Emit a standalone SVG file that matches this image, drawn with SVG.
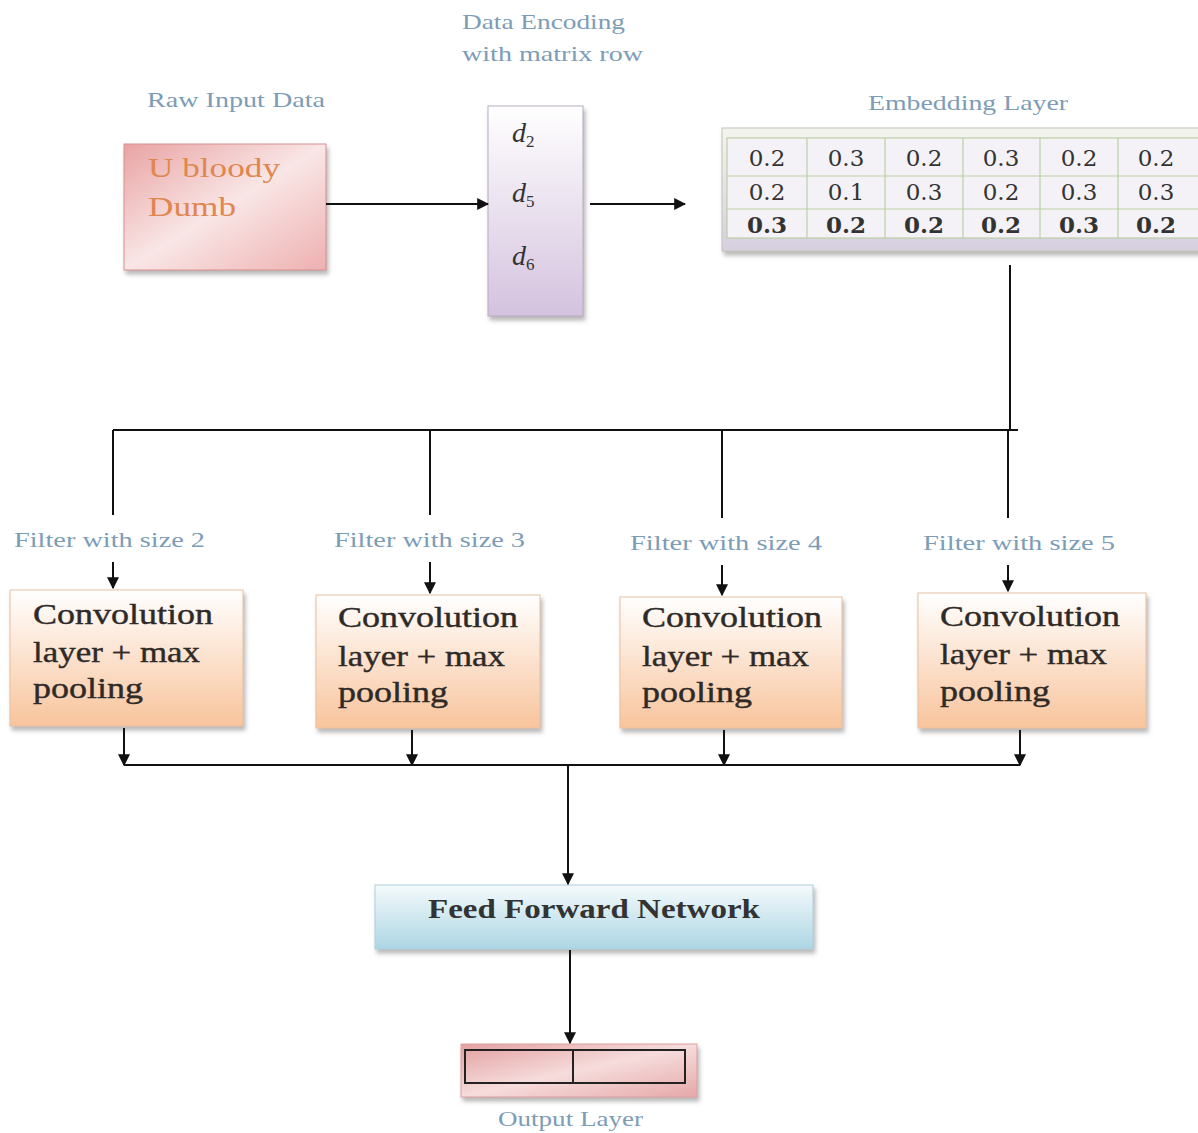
<svg xmlns="http://www.w3.org/2000/svg" width="1198" height="1133" viewBox="0 0 1198 1133">
<defs>
<linearGradient id="gRaw" x1="0" y1="0" x2="1" y2="1">
<stop offset="0" stop-color="#e9a3a3"/><stop offset="0.5" stop-color="#f9e6e6"/><stop offset="1" stop-color="#eeb0b0"/>
</linearGradient>
<linearGradient id="gEnc" x1="0" y1="0" x2="0" y2="1">
<stop offset="0" stop-color="#ffffff"/><stop offset="1" stop-color="#d4c2de"/>
</linearGradient>
<linearGradient id="gEmb" x1="0" y1="0" x2="0" y2="1">
<stop offset="0" stop-color="#f4f4ee"/><stop offset="1" stop-color="#d6cfe0"/>
</linearGradient>
<linearGradient id="gConv" x1="0" y1="0" x2="0" y2="1">
<stop offset="0" stop-color="#ffffff"/><stop offset="1" stop-color="#f8c49c"/>
</linearGradient>
<linearGradient id="gFFN" x1="0" y1="0" x2="0" y2="1">
<stop offset="0" stop-color="#f4fafc"/><stop offset="1" stop-color="#acd6e4"/>
</linearGradient>
<linearGradient id="gOut" x1="0" y1="0" x2="1" y2="1">
<stop offset="0" stop-color="#e3a0a0"/><stop offset="0.5" stop-color="#f6dcdc"/><stop offset="1" stop-color="#e6a8a8"/>
</linearGradient>
<filter id="sh" x="-10%" y="-10%" width="120%" height="130%">
<feDropShadow dx="2" dy="4" stdDeviation="2" flood-color="#888" flood-opacity="0.6"/>
</filter>
<marker id="ah" viewBox="0 0 10 10" refX="9" refY="5" markerWidth="6" markerHeight="6" orient="auto" markerUnits="strokeWidth">
<path d="M0,0 L10,5 L0,10 z" fill="#111"/>
</marker>
</defs>
<style>
.lbl{font-family:"Liberation Serif",serif;font-size:21px;fill:#7d9cb6}
.conv{font-family:"Liberation Serif",serif;font-size:29px;fill:#2e2a28;stroke:#2e2a28;stroke-width:0.4}
.num{font-family:"DejaVu Serif","Liberation Serif",serif;font-size:23px;fill:#333;text-anchor:middle}
.b{font-weight:bold}
.d{font-family:"Liberation Serif",serif;font-style:italic;font-size:28px;fill:#333}
.sub{font-size:17px;font-style:normal}
.ln{stroke:#111;stroke-width:2;fill:none}
.grid{stroke:#b9cfa6;stroke-width:1.2}
</style>
<rect width="1198" height="1133" fill="#ffffff"/>

<g id="raw">
<text class="lbl" x="147" y="107" textLength="178" lengthAdjust="spacingAndGlyphs">Raw Input Data</text>
<rect x="124" y="144" width="202" height="126" fill="url(#gRaw)" stroke="#d89090" stroke-width="1" filter="url(#sh)"/>
<text x="148" y="177" font-family="Liberation Serif,serif" font-size="27" fill="#e0864e" textLength="132" lengthAdjust="spacingAndGlyphs">U bloody</text>
<text x="148" y="216" font-family="Liberation Serif,serif" font-size="27" fill="#e0864e" textLength="88" lengthAdjust="spacingAndGlyphs">Dumb</text>
</g>

<g id="encoding">
<text class="lbl" x="462" y="29" textLength="163" lengthAdjust="spacingAndGlyphs">Data Encoding</text>
<text class="lbl" x="462" y="61" textLength="181" lengthAdjust="spacingAndGlyphs">with matrix  row</text>
<rect x="488" y="106" width="95" height="210" fill="url(#gEnc)" stroke="#b8aac4" stroke-width="1" filter="url(#sh)"/>
<text class="d" x="512" y="142">d<tspan class="sub" dy="5">2</tspan></text>
<text class="d" x="512" y="202">d<tspan class="sub" dy="5">5</tspan></text>
<text class="d" x="512" y="265">d<tspan class="sub" dy="5">6</tspan></text>
</g>

<g id="embedding">
<text class="lbl" x="868" y="110" textLength="200" lengthAdjust="spacingAndGlyphs">Embedding  Layer</text>
<rect x="722" y="128" width="480" height="123" fill="url(#gEmb)" stroke="#c4c4b8" stroke-width="1" filter="url(#sh)"/>
<rect x="727" y="138" width="475" height="100" fill="#f4f2f6" stroke="#b9cfa6" stroke-width="1.2"/>
<line class="grid" x1="727" y1="176" x2="1198" y2="176"/>
<line class="grid" x1="727" y1="209" x2="1198" y2="209"/>
<line class="grid" x1="807" y1="138" x2="807" y2="238"/>
<line class="grid" x1="885" y1="138" x2="885" y2="238"/>
<line class="grid" x1="963" y1="138" x2="963" y2="238"/>
<line class="grid" x1="1040" y1="138" x2="1040" y2="238"/>
<line class="grid" x1="1118" y1="138" x2="1118" y2="238"/>
<g class="num">
<text x="767" y="166">0.2</text><text x="846" y="166">0.3</text><text x="924" y="166">0.2</text><text x="1001" y="166">0.3</text><text x="1079" y="166">0.2</text><text x="1156" y="166">0.2</text>
<text x="767" y="200">0.2</text><text x="846" y="200">0.1</text><text x="924" y="200">0.3</text><text x="1001" y="200">0.2</text><text x="1079" y="200">0.3</text><text x="1156" y="200">0.3</text>
<text class="b" x="767" y="233">0.3</text><text class="b" x="846" y="233">0.2</text><text class="b" x="924" y="233">0.2</text><text class="b" x="1001" y="233">0.2</text><text class="b" x="1079" y="233">0.3</text><text class="b" x="1156" y="233">0.2</text>
</g>
</g>

<g id="filter-labels">
<text class="lbl" x="14" y="547" textLength="191" lengthAdjust="spacingAndGlyphs">Filter with size 2</text>
<text class="lbl" x="334" y="547" textLength="191" lengthAdjust="spacingAndGlyphs">Filter with size 3</text>
<text class="lbl" x="630" y="550" textLength="192" lengthAdjust="spacingAndGlyphs">Filter with size 4</text>
<text class="lbl" x="923" y="550" textLength="192" lengthAdjust="spacingAndGlyphs">Filter with size 5</text>
</g>

<g id="conv1">
<rect x="10" y="590" width="233" height="136" fill="url(#gConv)" stroke="#e8c0a0" stroke-width="1" filter="url(#sh)"/>
<text class="conv" x="33" y="624" textLength="180" lengthAdjust="spacingAndGlyphs">Convolution</text>
<text class="conv" x="33" y="662" textLength="167" lengthAdjust="spacingAndGlyphs">layer + max</text>
<text class="conv" x="33" y="698" textLength="110" lengthAdjust="spacingAndGlyphs">pooling</text>
</g>
<g id="conv2">
<rect x="316" y="595" width="224" height="133" fill="url(#gConv)" stroke="#e8c0a0" stroke-width="1" filter="url(#sh)"/>
<text class="conv" x="338" y="627" textLength="180" lengthAdjust="spacingAndGlyphs">Convolution</text>
<text class="conv" x="338" y="666" textLength="167" lengthAdjust="spacingAndGlyphs">layer + max</text>
<text class="conv" x="338" y="702" textLength="110" lengthAdjust="spacingAndGlyphs">pooling</text>
</g>
<g id="conv3">
<rect x="620" y="597" width="222" height="131" fill="url(#gConv)" stroke="#e8c0a0" stroke-width="1" filter="url(#sh)"/>
<text class="conv" x="642" y="627" textLength="180" lengthAdjust="spacingAndGlyphs">Convolution</text>
<text class="conv" x="642" y="666" textLength="167" lengthAdjust="spacingAndGlyphs">layer + max</text>
<text class="conv" x="642" y="702" textLength="110" lengthAdjust="spacingAndGlyphs">pooling</text>
</g>
<g id="conv4">
<rect x="918" y="593" width="228" height="135" fill="url(#gConv)" stroke="#e8c0a0" stroke-width="1" filter="url(#sh)"/>
<text class="conv" x="940" y="626" textLength="180" lengthAdjust="spacingAndGlyphs">Convolution</text>
<text class="conv" x="940" y="664" textLength="167" lengthAdjust="spacingAndGlyphs">layer + max</text>
<text class="conv" x="940" y="701" textLength="110" lengthAdjust="spacingAndGlyphs">pooling</text>
</g>

<g id="ffn">
<rect x="375" y="885" width="438" height="64" fill="url(#gFFN)" stroke="#b0cfdc" stroke-width="1" filter="url(#sh)"/>
<text x="428" y="918" font-family="Liberation Serif,serif" font-size="27" font-weight="bold" fill="#333" textLength="332" lengthAdjust="spacingAndGlyphs">Feed Forward Network</text>
</g>

<g id="output">
<rect x="461" y="1044" width="236" height="53" fill="url(#gOut)" stroke="#dba0a0" stroke-width="1" filter="url(#sh)"/>
<rect x="465" y="1050" width="220" height="33" fill="none" stroke="#222" stroke-width="2"/>
<line x1="573" y1="1050" x2="573" y2="1083" stroke="#222" stroke-width="2"/>
<text class="lbl" x="498" y="1126" textLength="145" lengthAdjust="spacingAndGlyphs">Output Layer</text>
</g>

<g id="connectors">
<line class="ln" x1="326" y1="204" x2="488" y2="204" marker-end="url(#ah)"/>
<line class="ln" x1="590" y1="204" x2="685" y2="204" marker-end="url(#ah)"/>
<polyline class="ln" points="1010,265 1010,430"/>
<line class="ln" x1="113" y1="430" x2="1018" y2="430"/>
<line class="ln" x1="113" y1="430" x2="113" y2="515"/>
<line class="ln" x1="430" y1="430" x2="430" y2="515"/>
<line class="ln" x1="722" y1="430" x2="722" y2="518"/>
<line class="ln" x1="1008" y1="430" x2="1008" y2="518"/>
<line class="ln" x1="113" y1="562" x2="113" y2="588" marker-end="url(#ah)"/>
<line class="ln" x1="430" y1="562" x2="430" y2="593" marker-end="url(#ah)"/>
<line class="ln" x1="722" y1="565" x2="722" y2="595" marker-end="url(#ah)"/>
<line class="ln" x1="1008" y1="565" x2="1008" y2="591" marker-end="url(#ah)"/>
<line class="ln" x1="124" y1="728" x2="124" y2="765" marker-end="url(#ah)"/>
<line class="ln" x1="412" y1="730" x2="412" y2="765" marker-end="url(#ah)"/>
<line class="ln" x1="724" y1="730" x2="724" y2="765" marker-end="url(#ah)"/>
<line class="ln" x1="1020" y1="730" x2="1020" y2="765" marker-end="url(#ah)"/>
<line class="ln" x1="124" y1="765" x2="1020" y2="765"/>
<line class="ln" x1="568" y1="765" x2="568" y2="884" marker-end="url(#ah)"/>
<line class="ln" x1="570" y1="950" x2="570" y2="1043" marker-end="url(#ah)"/>
</g>
</svg>
